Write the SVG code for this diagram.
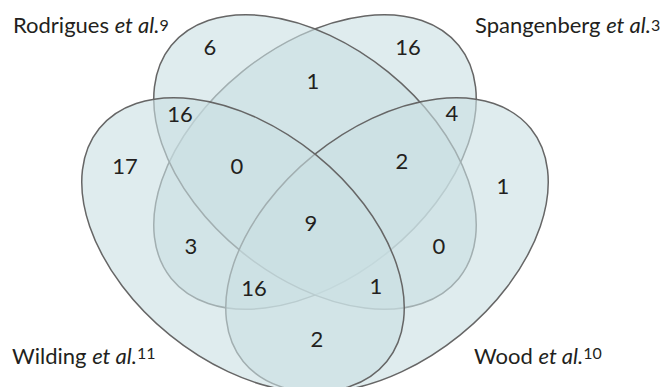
<svg xmlns="http://www.w3.org/2000/svg" width="663" height="387" viewBox="0 0 663 387">
<style>
.set{fill:#cadfe3;fill-opacity:0.6;stroke:#666;stroke-width:1.5}
.lbl{font-family:Lato,"Liberation Sans",sans-serif;font-size:22px;fill:#231f20}
.it{font-style:italic}
.sup{font-size:16px}
.num{font-family:Lato,"Liberation Sans",sans-serif;font-size:22px;fill:#231f20;text-anchor:middle}
</style>
<rect width="663" height="387" fill="#fff"/>
<g id="set-spangenberg">
<ellipse class="set" cx="315" cy="162" rx="185" ry="116" transform="rotate(-39 315 162)"/>
<text class="lbl" x="475" y="33">Spangenberg <tspan class="it">et al.</tspan><tspan class="sup" dy="-2">3</tspan></text>
</g>
<g id="set-rodrigues">
<ellipse class="set" cx="315" cy="162" rx="185" ry="116" transform="rotate(39 315 162)"/>
<text class="lbl" x="13" y="33">Rodrigues <tspan class="it">et al.</tspan><tspan class="sup" dy="-2">9</tspan></text>
</g>
<g id="set-wood">
<ellipse class="set" cx="387" cy="245" rx="185" ry="116" transform="rotate(-39 387 245)"/>
<text class="lbl" x="474" y="364">Wood <tspan class="it">et al.</tspan><tspan class="sup" dy="-5">10</tspan></text>
</g>
<g id="set-wilding">
<ellipse class="set" cx="243" cy="245" rx="185" ry="116" transform="rotate(39 243 245)"/>
<text class="lbl" x="12" y="364">Wilding <tspan class="it">et al.</tspan><tspan class="sup" dy="-5">11</tspan></text>
</g>
<g id="counts">
<text class="num" x="210" y="55">6</text>
<text class="num" x="408" y="55">16</text>
<text class="num" x="313" y="89">1</text>
<text class="num" x="180" y="122">16</text>
<text class="num" x="452" y="121">4</text>
<text class="num" x="125" y="174">17</text>
<text class="num" x="237" y="174">0</text>
<text class="num" x="402" y="169">2</text>
<text class="num" x="503" y="194">1</text>
<text class="num" x="311" y="231">9</text>
<text class="num" x="191" y="254">3</text>
<text class="num" x="439" y="254">0</text>
<text class="num" x="254" y="296">16</text>
<text class="num" x="376" y="294">1</text>
<text class="num" x="317" y="347">2</text>
</g>
<g id="connectors"/>
</svg>
